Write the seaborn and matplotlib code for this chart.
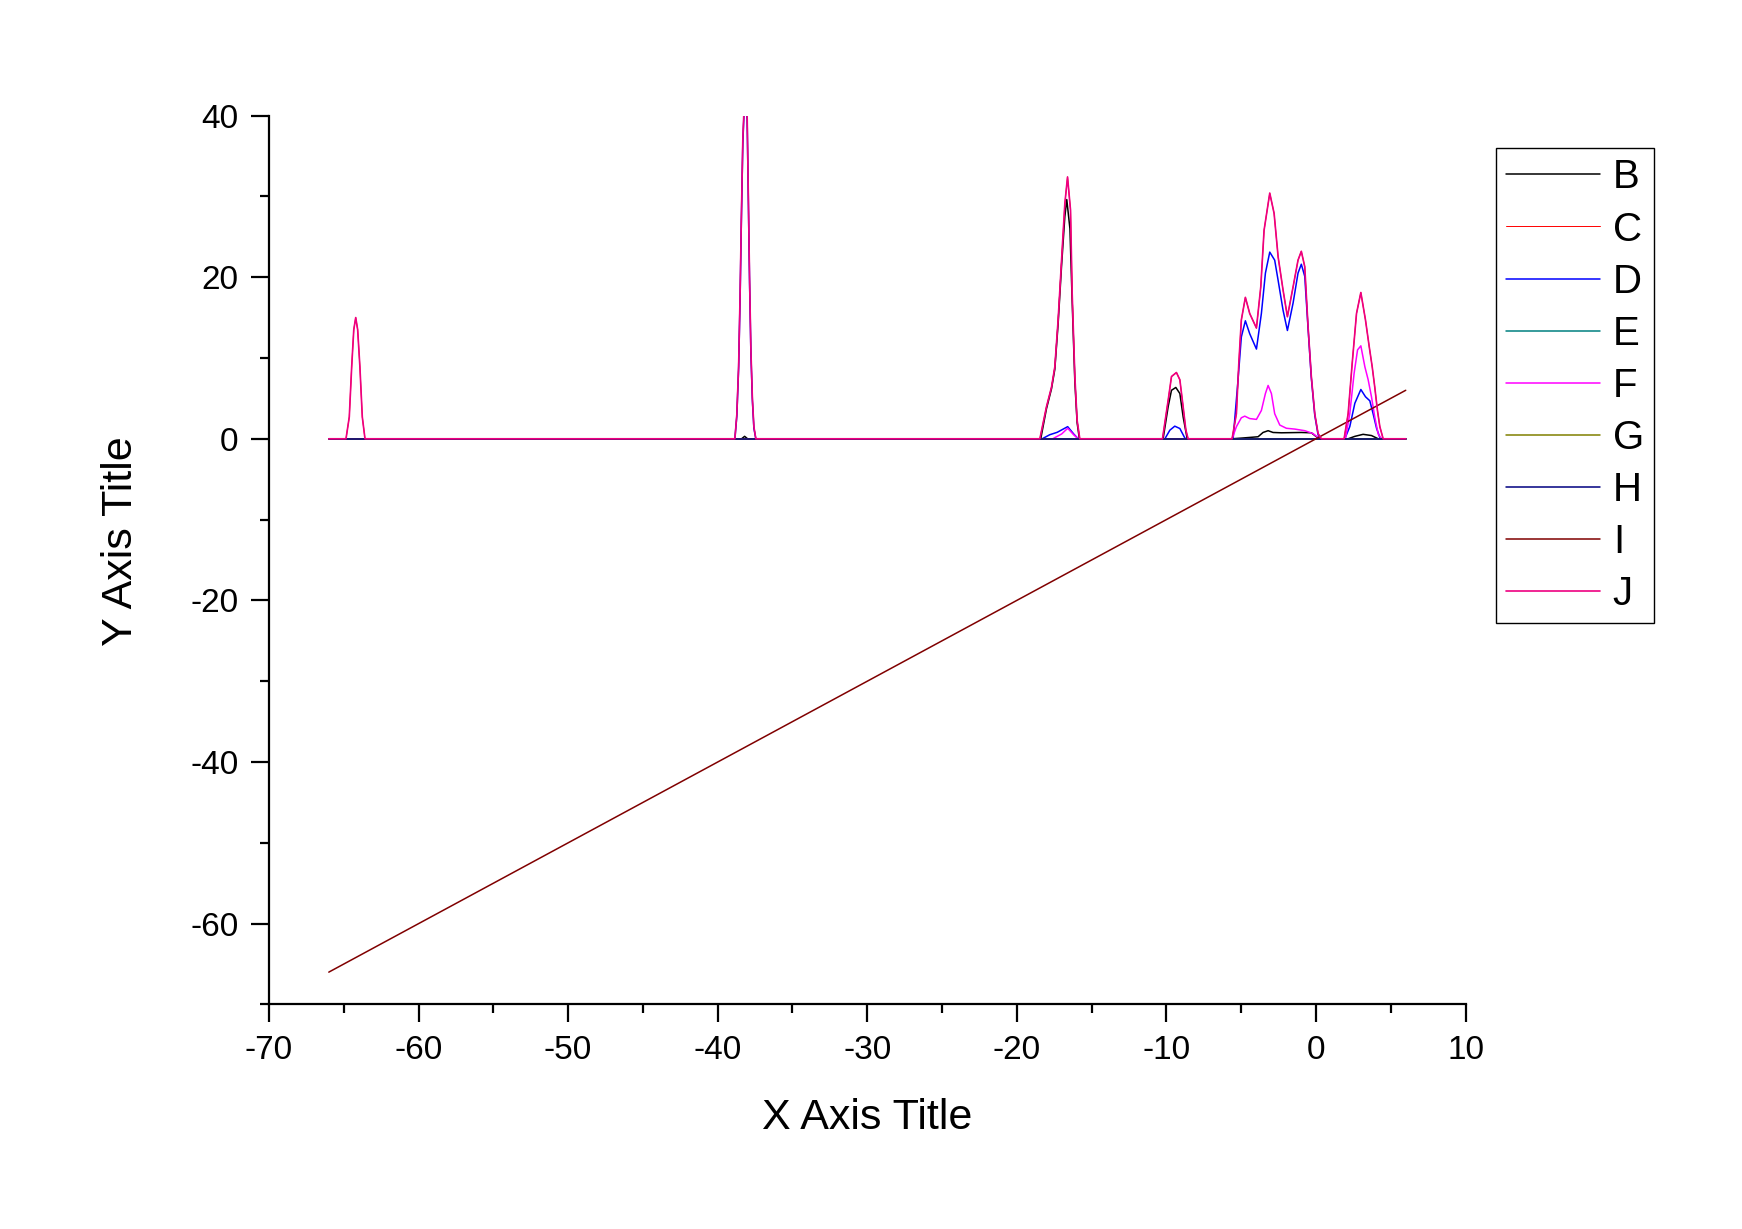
import matplotlib
matplotlib.use("Agg")
import matplotlib.pyplot as plt
from matplotlib.ticker import MultipleLocator
import seaborn as sns

# series values (x, y per series)
b_x = [-66, -38.4, -38.2, -38.0, -18.4, -18.02, -17.68, -17.46, -17.24, -17.01, -16.79, -16.66, -16.45, -16.30, -16.12, -15.97, -15.82,
       -10.22, -9.88, -9.66, -9.37, -9.10, -8.88, -8.61,
       -5.6, -4.87, -3.87, -3.54, -3.20, -2.87, -2.31, -0.98, -0.31, 0.03, 0.25,
       2.15, 2.60, 3.15, 3.71, 4.16, 6]
b_y = [0, 0, 0.3, 0, 0, 3.7, 6.2, 8.6, 14.2, 21.4, 27.5, 29.6, 26.0, 17.0, 7.0, 2.0, 0,
       0, 4.0, 6.0, 6.35, 5.6, 2.7, 0,
       0, 0.1, 0.25, 0.78, 1.0, 0.78, 0.74, 0.78, 0.74, 0.25, 0,
       0, 0.3, 0.55, 0.4, 0, 0]

j_x = [-66, -64.85, -64.63, -64.47, -64.33, -64.2, -64.07, -63.92, -63.76, -63.58,
       -38.85, -38.72, -38.60, -38.50, -38.42, -38.32, -38.17, -38.03, -37.95, -37.87, -37.78, -37.68, -37.58, -37.45,
       -18.46, -18.02, -17.68, -17.46, -17.24, -17.01, -16.79, -16.61, -16.41, -16.30, -16.12, -15.97, -15.79,
       -10.26, -10.11, -9.88, -9.66, -9.33, -9.10, -8.88, -8.70, -8.55,
       -5.61, -5.32, -5.16, -4.99, -4.72, -4.43, -3.98, -3.69, -3.47, -3.09, -2.80, -2.53, -2.20, -1.91,
       -1.53, -1.20, -0.98, -0.75, -0.53, -0.31, -0.08, 0.14, 0.36,
       1.88, 2.15, 2.42, 2.71, 3.00, 3.31, 3.56, 3.76, 3.93, 4.11, 4.27, 4.49, 6]
j_y = [0, 0, 2.7, 8.9, 13.5, 15.0, 13.5, 8.9, 2.7, 0,
       0, 3.0, 9.0, 18.0, 27.0, 37.0, 44.0, 40.0, 30.0, 20.0, 11.0, 5.0, 1.5, 0,
       0, 3.95, 6.4, 8.9, 14.7, 22.1, 29.1, 32.4, 28.3, 18.0, 7.7, 2.3, 0,
       0, 1.9, 4.8, 7.7, 8.2, 7.3, 3.95, 1.1, 0,
       0, 3.1, 9.3, 14.7, 17.5, 15.5, 13.7, 18.8, 25.8, 30.4, 27.9, 22.5, 18.4, 15.1,
       18.8, 22.1, 23.2, 21.3, 13.9, 7.7, 3.1, 0.65, 0,
       0, 3.1, 9.3, 15.5, 18.1, 14.7, 11.4, 8.9, 6.4, 3.5, 1.5, 0, 0]

c_x = j_x
c_y = j_y

d_x = [-66, -38.85, -38.72, -38.60, -38.50, -38.42, -38.32, -38.17, -38.03, -37.95, -37.87, -37.78, -37.68, -37.58, -37.45,
       -18.3, -17.8, -17.3, -16.6, -16.2, -15.9,
       -10.1, -9.77, -9.44, -9.10, -8.77, -8.7,
       -5.54, -5.21, -4.99, -4.72, -4.43, -3.98, -3.65, -3.38, -3.09, -2.76, -2.53, -2.20, -1.91,
       -1.53, -1.20, -0.98, -0.75, -0.53, -0.31, -0.08, 0.14, 0.32,
       1.93, 2.26, 2.60, 3.00, 3.31, 3.60, 3.82, 4.05, 4.27, 4.38, 6]
d_y = [0, 0, 2.8, 8.7, 17.5, 26.5, 36.5, 43.5, 39.5, 29.5, 19.5, 10.6, 4.7, 1.3, 0,
       0, 0.5, 0.8, 1.5, 0.6, 0,
       0, 1.06, 1.56, 1.27, 0.1, 0,
       0, 7.3, 12.6, 14.6, 13.0, 11.1, 15.5, 20.5, 23.1, 22.1, 19.6, 15.9, 13.4,
       16.8, 20.5, 21.6, 20.1, 13.7, 7.5, 2.9, 0.5, 0,
       0, 1.5, 4.4, 6.1, 5.2, 4.7, 3.1, 1.3, 0.15, 0, 0]

f_x = [-66, -17.6, -17.0, -16.6, -16.2, -15.9,
       -5.61, -5.32, -4.99, -4.76, -4.43, -3.98, -3.65, -3.38, -3.20, -2.98, -2.76, -2.42, -1.98, -1.42, -0.75, -0.20, 0.25,
       1.97, 2.26, 2.55, 2.78, 3.00, 3.27, 3.49, 3.71, 3.93, 4.16, 4.38, 6]
f_y = [0, 0, 0.6, 1.3, 0.5, 0,
       0, 1.5, 2.6, 2.8, 2.5, 2.4, 3.5, 5.6, 6.6, 5.6, 3.1, 1.7, 1.3, 1.2, 1.0, 0.65, 0,
       0, 3.1, 8.1, 11.0, 11.5, 8.9, 7.3, 5.2, 2.7, 0.6, 0, 0]

flat_x = [-66, 6]
e_y = [0, 0]
g_y = [0, 0]
h_y = [0, 0]
i_x = [-66, 6]
i_y = [-66, 6]

series = [
    ("B", b_x, b_y, "#000000", 1.1),
    ("C", c_x, c_y, "#FF0000", 0.7),
    ("D", d_x, d_y, "#0000FF", 1.1),
    ("E", flat_x, e_y, "#008080", 1.1),
    ("F", f_x, f_y, "#FF00FF", 1.1),
    ("G", flat_x, g_y, "#808000", 1.1),
    ("H", flat_x, h_y, "#000080", 1.1),
    ("I", i_x, i_y, "#800000", 1.1),
    ("J", j_x, j_y, "#EE0080", 1.2),
]

sns.set_style("ticks")
plt.rcParams["font.family"] = ["Liberation Sans", "DejaVu Sans"]
plt.rcParams["axes.unicode_minus"] = False
plt.rcParams["text.color"] = "black"
plt.rcParams["axes.labelcolor"] = "black"

fig = plt.figure(figsize=(17.42, 12.29), dpi=100)
ax = fig.add_axes([0.1544, 0.1827, 0.6869, 0.7233])

for name, xs, ys, col, lw in series:
    sns.lineplot(x=xs, y=ys, color=col, linewidth=lw, label=name,
                 estimator=None, sort=False, ax=ax)

ax.set_xlim(-70, 10)
ax.set_ylim(-70, 40)
ax.xaxis.set_major_locator(MultipleLocator(10))
ax.xaxis.set_minor_locator(MultipleLocator(5))
ax.yaxis.set_major_locator(MultipleLocator(20))
ax.yaxis.set_minor_locator(MultipleLocator(10))

for s in ["top", "right"]:
    ax.spines[s].set_visible(False)
for s in ["left", "bottom"]:
    ax.spines[s].set_linewidth(1.6)
    ax.spines[s].set_color("black")

ax.tick_params(which="major", direction="out", length=13, width=1.6, labelsize=24, pad=9,
               colors="black", labelcolor="black")
ax.tick_params(which="minor", direction="out", length=6.5, width=1.6, colors="black")
ax.tick_params(axis="y", which="major", pad=9)

ax.set_xlabel("X Axis Title", fontsize=31, va="top", color="black")
ax.set_ylabel("Y Axis Title", fontsize=31, va="bottom", color="black")
ax.xaxis.set_label_coords(0.5, -0.105)
ax.yaxis.set_label_coords(-0.107, 0.521)

leg = ax.legend(loc="upper left", bbox_to_anchor=(0.8586, 0.8793), bbox_transform=fig.transFigure,
                fontsize=29, handlelength=2.33, handletextpad=0.33, labelspacing=0.35,
                borderpad=0.25, borderaxespad=0, fancybox=False, framealpha=1)
leg.get_frame().set_edgecolor("black")
leg.get_frame().set_linewidth(1.0)
for t in leg.get_texts():
    t.set_color("black")

fig.savefig("out.png", dpi=100, facecolor="white")
